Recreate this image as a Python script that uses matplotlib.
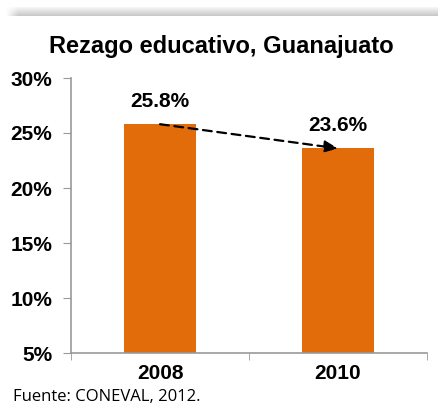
import matplotlib.pyplot as plt
import numpy as np

# 数据
years = ['2008', '2010']
rezago = [25.8, 23.6]
yticks = [5, 10, 15, 20, 25, 30]

plt.rcParams['font.family'] = ['Liberation Sans', 'DejaVu Sans']

fig = plt.figure(figsize=(4.39, 4.11), dpi=100)

# 顶部阴影条
sh = fig.add_axes([0.0, 1 - 16 / 411, 1.0, 9 / 411])
grad = np.linspace(0.97, 0.78, 40).reshape(-1, 1)
fade = np.clip((np.arange(439) - 6) / 12, 0, 1).reshape(1, -1)
img = 1 - (1 - grad) * fade
sh.imshow(np.dstack([img, img, img]), aspect='auto', origin='upper')
sh.axis('off')

ax = fig.add_axes([71 / 439, 58 / 411, 356 / 439, 275 / 411])
x = np.arange(len(years))
bars = ax.bar(x, rezago, width=0.405, color='#E36C0A', zorder=2)

ax.set_xlim(-0.5, 1.5)
ax.set_ylim(5, 30)
ax.set_yticks(yticks)
ax.set_yticklabels([f'{v}%' for v in yticks], fontsize=15, fontweight='bold')
ax.set_xticks(x)
ax.set_xticklabels(years, fontsize=15, fontweight='bold')
ax.set_xticks([-0.5, 0.5, 1.5], minor=True)
ax.tick_params(axis='x', which='major', length=0, pad=8)
ax.tick_params(axis='x', which='minor', length=5, color='#999999', direction='out')
ax.tick_params(axis='y', length=5.5, color='#999999', pad=8)

for s in ['top', 'right']:
    ax.spines[s].set_visible(False)
for s in ['left', 'bottom']:
    ax.spines[s].set_color('#999999')
    ax.spines[s].set_linewidth(1.2)

# 数值标签
for xi, v in zip(x, rezago):
    ax.annotate(f'{v}%', (xi, v), xytext=(0, 16.5), textcoords='offset points',
                ha='center', va='center', fontsize=15, fontweight='bold')

# 虚线箭头
ax.annotate('', xy=(x[1], rezago[1]), xytext=(x[0], rezago[0]),
            arrowprops=dict(arrowstyle='-|>,head_length=0.8,head_width=0.35',
                            linestyle=(0, (4, 2.5)), color='black', lw=1.6,
                            shrinkA=0, shrinkB=0), zorder=3)

fig.text(221 / 439, 1 - 47 / 411, 'Rezago educativo, Guanajuato', ha='center', va='center',
         fontsize=17, fontweight='bold')
fig.text(13 / 439, 1 - 397 / 411, 'Fuente: CONEVAL, 2012.', ha='left', va='center',
         fontsize=12, family=['Open Sans', 'DejaVu Sans'])

fig.savefig('out.png', dpi=100)
